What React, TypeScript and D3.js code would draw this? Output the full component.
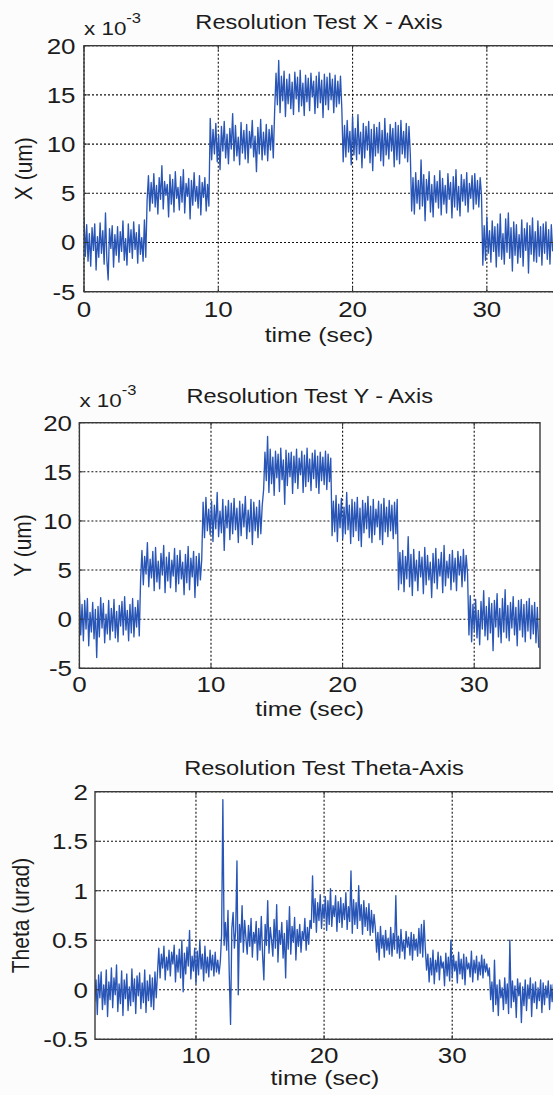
import React from "react";
import * as d3 from "d3";

const W = 553, H = 1095;
const SX = 1.18; // the scanned figure is a little stretched sideways
const FONT = "'Liberation Sans', Arial, sans-serif";
const BLUE = "#2956b6";

// ---- X axis test (x 10^-3 um): start time of each step and its samples
const xStepTimes = [0, 4.7, 9.4, 14.2, 19.3, 24.4, 29.7, 35];
const xSteps = [
  [2.6, -1.4, 1.8, -1.9, 0.9, -2.4, 1.5, -0.8, 1.9, -2.8, 0.6, -1.5, 2.0, -1.1, 1.2, -2.2, 3.0, -1.7, -3.8, 1.4, -0.6, 1.7, -2.5, 0.8, -1.3, 1.6, -2.0, 1.1, -0.9, 2.2, -1.8, 0.4, -2.3, 1.9, -1.0, 1.3, -1.6, 2.1, -0.7, 1.0, -2.1, 1.8, -1.2, 0.5, -1.9, 2.3, -1.5],
  [4.3, 6.8, 3.2, 6.1, 4.0, 7.0, 3.6, 5.8, 2.9, 6.6, 4.4, 7.8, 3.4, 6.2, 4.8, 5.9, 2.6, 6.9, 3.9, 6.4, 3.1, 7.2, 4.5, 5.6, 3.3, 6.7, 4.1, 7.4, 3.0, 6.0, 4.7, 6.5, 2.4, 6.3, 3.8, 7.1, 4.2, 5.7, 3.5, 6.8, 2.8, 6.1, 4.6, 6.6, 3.2, 5.9, 3.7],
  [12.6, 8.4, 11.5, 9.0, 12.1, 8.2, 10.9, 7.4, 11.8, 9.3, 12.3, 8.6, 11.0, 8.0, 11.6, 9.5, 13.1, 8.3, 11.9, 8.8, 10.7, 7.9, 12.2, 9.1, 11.4, 8.5, 12.0, 8.1, 11.3, 9.6, 12.4, 8.7, 10.8, 7.2, 11.7, 9.0, 12.5, 8.4, 11.2, 8.9, 12.0, 8.3, 11.5, 9.4, 11.9, 8.6],
  [13.5, 17.2, 14.0, 18.5, 13.2, 16.9, 14.4, 17.4, 12.8, 16.6, 14.1, 17.1, 13.6, 16.3, 13.0, 17.3, 14.6, 16.8, 13.3, 17.5, 13.9, 16.2, 12.9, 17.0, 14.3, 16.7, 13.4, 17.2, 14.8, 16.4, 13.1, 16.9, 13.7, 17.3, 14.2, 16.5, 12.7, 17.1, 14.0, 16.8, 13.5, 17.2, 14.5, 16.6, 13.2, 17.0, 13.8, 16.4, 14.1, 16.9, 13.6],
  [8.2, 11.9, 8.7, 12.4, 9.2, 11.3, 7.9, 12.8, 8.9, 11.6, 8.4, 13.0, 9.0, 11.2, 7.6, 12.1, 8.6, 11.8, 9.4, 12.3, 8.1, 11.5, 7.3, 12.0, 8.8, 11.7, 9.1, 12.2, 8.3, 11.4, 7.8, 12.6, 8.9, 11.1, 8.5, 12.0, 9.3, 11.6, 7.7, 12.2, 8.4, 11.9, 8.0, 12.4, 9.0, 11.3, 8.6, 12.1, 8.2, 11.8, 9.0],
  [3.2, 6.6, 2.9, 7.1, 4.0, 6.3, 3.4, 8.4, 3.7, 6.9, 2.2, 6.4, 4.3, 7.2, 3.1, 5.9, 2.6, 6.8, 4.1, 6.2, 3.5, 7.3, 2.8, 6.5, 3.9, 5.8, 3.0, 7.0, 4.4, 6.1, 2.5, 6.7, 3.6, 7.4, 3.3, 5.7, 2.7, 6.9, 4.2, 6.4, 3.8, 7.1, 3.1, 6.0, 4.5, 6.8, 3.4, 7.0, 3.9, 6.3, 3.6, 6.6, 4.8],
  [-2.3, 1.7, -1.8, 2.6, -1.1, 1.2, -2.0, 2.2, -0.9, 1.6, -2.5, 1.9, -1.4, 2.9, -1.7, 0.9, -2.2, 2.4, -1.0, 3.0, -1.6, 1.5, -2.9, 2.1, -1.3, 1.8, -2.1, 0.8, -1.5, 2.3, -2.4, 1.4, -0.8, 2.0, -3.1, 1.7, -1.2, 2.5, -1.9, 1.1, -2.0, 2.2, -1.4, 1.6, -2.3, 1.9, -1.1, 2.1, -1.7, 1.3, -2.2, 1.8, -0.9],
];

// ---- Y axis test (x 10^-3 um)
const yStepTimes = [0, 4.65, 9.4, 14.0, 19.2, 24.25, 29.6, 35];
const ySteps = [
  [2.8, -1.6, 1.5, -2.2, 1.9, -1.0, 2.1, -2.7, 0.7, -1.3, 1.7, -2.0, 1.0, -3.9, 1.3, -1.8, 2.2, -0.9, 1.6, -2.4, 0.5, -1.5, 1.9, -2.1, 1.1, -1.2, 2.0, -1.9, 0.8, -2.3, 1.4, -0.7, 1.8, -1.6, 2.3, -1.1, 0.9, -2.2, 1.5, -1.4, 2.1, -1.8, 1.2, -0.8, 1.9, -1.7],
  [4.0, 7.0, 3.5, 6.4, 4.6, 7.8, 3.3, 6.1, 4.2, 6.9, 2.9, 7.3, 3.8, 5.9, 3.1, 6.7, 4.5, 7.5, 2.7, 6.3, 3.9, 6.8, 3.2, 6.0, 4.4, 7.2, 2.8, 6.5, 3.6, 7.0, 4.1, 5.8, 2.5, 6.6, 3.7, 7.4, 3.0, 6.2, 4.3, 6.9, 2.2, 6.4, 3.4, 6.7, 4.0, 6.1],
  [11.9, 8.3, 12.4, 9.0, 11.2, 8.6, 12.0, 7.9, 11.6, 9.2, 12.9, 8.4, 11.0, 8.8, 12.2, 7.0, 11.5, 9.3, 12.1, 8.1, 11.8, 8.7, 12.3, 9.1, 11.3, 7.8, 12.0, 8.5, 11.7, 9.4, 12.5, 8.2, 11.1, 8.9, 12.2, 7.6, 11.9, 9.0, 11.4, 8.3, 12.1, 8.7, 11.6],
  [13.2, 17.0, 14.1, 18.6, 12.9, 17.3, 13.8, 16.5, 12.6, 17.1, 14.4, 16.8, 13.0, 17.4, 14.2, 16.2, 11.7, 17.2, 13.6, 16.9, 14.5, 17.0, 12.8, 16.6, 13.9, 17.3, 13.3, 16.4, 14.7, 17.1, 12.9, 16.7, 13.5, 17.4, 14.0, 16.3, 13.1, 16.9, 14.3, 17.2, 13.4, 16.6, 12.8, 17.0, 14.1, 16.5, 13.7, 17.1, 13.2, 16.8, 14.0, 16.4],
  [8.5, 12.0, 8.9, 12.6, 7.9, 11.7, 9.3, 12.3, 8.2, 11.4, 8.7, 12.9, 9.1, 11.6, 7.7, 12.2, 8.4, 11.9, 9.0, 12.4, 8.0, 11.3, 7.4, 12.1, 8.8, 11.8, 9.2, 12.5, 8.3, 11.5, 7.8, 12.2, 8.6, 11.2, 9.4, 12.0, 8.1, 11.7, 7.6, 12.3, 8.9, 11.4, 8.4, 12.1, 9.0, 11.6, 8.2, 11.9, 8.7, 12.2],
  [3.0, 6.8, 3.6, 7.0, 2.8, 6.4, 4.1, 8.4, 3.3, 6.6, 2.4, 7.1, 3.9, 6.0, 2.9, 6.9, 4.3, 6.3, 2.6, 7.3, 3.5, 6.5, 4.0, 5.8, 2.2, 6.7, 3.7, 7.2, 3.1, 6.1, 4.4, 6.8, 2.7, 7.5, 3.4, 5.9, 4.2, 6.6, 3.0, 7.0, 3.8, 6.2, 2.9, 6.9, 4.5, 6.4, 3.3, 7.1, 3.9, 6.5, 4.6],
  [-1.6, 2.4, -2.3, 1.5, -1.2, 2.0, -1.9, 0.9, -2.6, 1.8, -1.0, 2.9, -1.7, 1.3, -2.1, 2.2, -1.4, 1.6, -3.2, 1.9, -0.8, 2.6, -1.8, 1.1, -2.4, 2.1, -1.3, 3.0, -1.9, 1.4, -2.2, 1.7, -0.9, 2.3, -1.6, 1.2, -2.7, 1.9, -1.1, 2.0, -1.8, 1.5, -2.3, 1.8, -1.2, 2.1, -2.0, 1.4, -1.5, 1.7, -2.4, 1.2, -2.9],
];

// ---- Theta axis test (urad)
const thStepTimes = [2.1, 7.0, 12.0, 19.0, 24.0, 28.0, 33.0, 38];
const thSteps = [
  [-0.12, 0.10, -0.25, 0.15, -0.08, 0.18, -0.20, 0.05, -0.15, 0.20, -0.27, 0.08, -0.10, 0.22, -0.18, 0.12, -0.05, 0.25, -0.22, 0.06, -0.14, 0.19, -0.26, 0.10, -0.09, 0.16, -0.21, 0.03, -0.16, 0.21, -0.12, 0.11, -0.24, 0.14, -0.06, 0.17, -0.19, 0.07, -0.13, 0.20, -0.23, 0.09, -0.11, 0.15, -0.17, 0.12, -0.20, 0.18, -0.08],
  [0.18, 0.42, 0.12, 0.36, 0.22, 0.44, 0.10, 0.33, 0.20, 0.40, 0.14, 0.38, 0.26, 0.45, 0.08, 0.35, 0.18, 0.41, 0.12, 0.50, -0.02, 0.37, 0.16, 0.43, 0.24, 0.60, 0.11, 0.34, 0.19, 0.42, 0.06, 0.39, 0.15, 0.50, 0.21, 0.36, 0.09, 0.44, 0.17, 0.33, 0.13, 0.40, 0.20, 0.35, 0.14, 0.38, 0.18, 0.30, 0.16, 0.28],
  [0.55, 1.92, 0.45, 0.68, 0.40, 0.80, 0.15, -0.35, 0.62, 0.78, 0.42, 0.60, 1.30, -0.05, 0.66, 0.48, 0.85, 0.38, 0.70, 0.52, 0.36, 0.65, 0.44, 0.72, 0.33, 0.58, 0.47, 0.69, 0.30, 0.62, 0.40, 0.74, 0.35, 0.10, 0.66, 0.45, 0.90, 0.37, 0.63, 0.50, 0.34, 0.71, 0.42, 0.86, 0.28, 0.60, 0.46, 0.68, 0.32, 0.57, 0.12, 0.70, 0.41, 0.84, 0.36, 0.64, 0.48, 0.73, 0.30, 0.61, 0.44, 0.66, 0.38, 0.59, 0.50, 0.72, 0.40, 0.63, 0.46, 0.70],
  [0.62, 1.15, 0.68, 0.92, 0.58, 0.88, 0.70, 0.96, 0.62, 0.86, 0.72, 0.94, 0.60, 0.90, 0.66, 1.02, 0.64, 0.85, 0.74, 0.95, 0.59, 0.89, 0.68, 0.93, 0.63, 0.87, 0.71, 0.98, 0.61, 0.84, 0.69, 1.20, 0.57, 0.91, 0.66, 0.88, 0.62, 1.05, 0.70, 0.86, 0.56, 0.90, 0.64, 0.83, 0.60, 0.87, 0.55, 0.80, 0.58, 0.76],
  [0.62, 0.38, 0.58, 0.30, 0.64, 0.42, 0.55, 0.33, 0.60, 0.40, 0.52, 0.36, 0.63, 0.34, 0.57, 0.41, 0.95, 0.37, 0.54, 0.32, 0.61, 0.39, 0.50, 0.31, 0.59, 0.43, 0.53, 0.35, 0.58, 0.30, 0.56, 0.40, 0.51, 0.34, 0.62, 0.37, 0.66, 0.33, 0.70, 0.42],
  [0.20, 0.36, 0.08, 0.32, 0.15, 0.40, 0.06, 0.30, 0.18, 0.38, 0.10, 0.34, 0.22, 0.28, 0.04, 0.37, 0.14, 0.33, 0.09, 0.50, 0.12, 0.35, 0.19, 0.29, 0.07, 0.38, 0.16, 0.31, 0.11, 0.36, 0.05, 0.33, 0.21, 0.27, 0.13, 0.39, 0.08, 0.30, 0.17, 0.34, 0.10, 0.28, 0.15, 0.35, 0.12, 0.31, 0.18, 0.26, 0.14, 0.22],
  [-0.10, 0.08, -0.22, 0.30, -0.15, 0.05, -0.26, 0.10, -0.08, 0.02, -0.20, 0.12, -0.14, 0.06, -0.24, 0.50, -0.18, 0.09, -0.12, 0.04, -0.28, 0.11, -0.06, 0.07, -0.33, 0.03, -0.16, 0.10, -0.21, 0.05, -0.09, 0.12, -0.27, 0.06, -0.13, 0.08, -0.19, 0.02, -0.11, 0.10, -0.23, 0.07, -0.15, 0.04, -0.08, 0.09, -0.20, 0.05, -0.12, 0.06],
];

const umTicks = [-5, 0, 5, 10, 15, 20];
const thetaTicks = [-0.5, 0, 0.5, 1, 1.5, 2];
const timeTicksA = [0, 10, 20, 30];
const timeTicksB = [10, 20, 30];

const panels = [
  {
    title: "Resolution Test X - Axis", ylabel: "X (um)", exp: true,
    stepTimes: xStepTimes, steps: xSteps, xDomain: [0, 35], yDomain: [-5, 20],
    xTicks: timeTicksA, yTicks: umTicks,
    left: 84, right: 554, top: 45.7, bottom: 291.7,
    titleX: 319, titleY: 28.5, expY: 35, xtY: 316.5, xlY: 342, ylX: 32, ytX: 75.5,
  },
  {
    title: "Resolution Test Y - Axis", ylabel: "Y (um)", exp: true,
    stepTimes: yStepTimes, steps: ySteps, xDomain: [0, 35], yDomain: [-5, 20],
    xTicks: timeTicksA, yTicks: umTicks,
    left: 79.4, right: 540, top: 422.7, bottom: 668.3,
    titleX: 309.7, titleY: 403.3, expY: 406.5, xtY: 691.5, xlY: 716, ylX: 30.5, ytX: 72,
  },
  {
    title: "Resolution Test Theta-Axis", ylabel: "Theta (urad)", exp: false,
    stepTimes: thStepTimes, steps: thSteps, xDomain: [2.12, 38], yDomain: [-0.5, 2],
    xTicks: timeTicksB, yTicks: thetaTicks,
    left: 95, right: 554.7, top: 791.7, bottom: 1039.3,
    titleX: 324, titleY: 775, expY: 0, xtY: 1063, xlY: 1085, ylX: 28.5, ytX: 88,
  },
];

function Txt({ x, y, anchor = "middle", size = 21, rotate = 0, children }: any) {
  return (
    <text
      transform={`translate(${x},${y}) scale(${SX},1) rotate(${rotate})`}
      textAnchor={anchor}
      fontSize={size}
      fontFamily={FONT}
      fill="#1c1c1c"
    >
      {children}
    </text>
  );
}

function Panel({ p, id }: any) {
  const x = d3.scaleLinear().domain(p.xDomain).range([p.left, p.right]);
  const y = d3.scaleLinear().domain(p.yDomain).range([p.bottom, p.top]);

  // each step's samples are spread evenly over its time span
  const pts: [number, number][] = p.stepTimes.slice(0, -1).flatMap((t0: number, k: number) => {
    const t1 = p.stepTimes[k + 1];
    const seg: number[] = p.steps[k];
    return seg.map((v, i) => [t0 + (i * (t1 - t0)) / seg.length, v] as [number, number]);
  });
  const line = d3.line<[number, number]>().x(d => x(d[0])).y(d => y(d[1]));

  return (
    <g>
      <defs>
        <clipPath id={`clip${id}`}>
          <rect x={p.left} y={p.top} width={p.right - p.left} height={p.bottom - p.top} />
        </clipPath>
      </defs>
      <rect x={p.left} y={p.top} width={p.right - p.left} height={p.bottom - p.top} fill="#fff" />
      {/* dotted grid */}
      {p.xTicks.map((t: number) => (
        <line key={"gx" + t} x1={x(t)} x2={x(t)} y1={p.top} y2={p.bottom}
          stroke="#111" strokeWidth={1.1} strokeDasharray="2,2" />
      ))}
      {p.yTicks.map((t: number) => (
        <line key={"gy" + t} x1={p.left} x2={p.right} y1={y(t)} y2={y(t)}
          stroke="#111" strokeWidth={1.1} strokeDasharray="2,2" />
      ))}
      <path d={line(pts) || ""} fill="none" stroke={BLUE} strokeWidth={1.35}
        strokeLinejoin="round" clipPath={`url(#clip${id})`} />
      {/* inward ticks */}
      {p.xTicks.map((t: number) => (
        <g key={"tx" + t}>
          <line x1={x(t)} x2={x(t)} y1={p.bottom} y2={p.bottom - 4} stroke="#333" />
          <line x1={x(t)} x2={x(t)} y1={p.top} y2={p.top + 4} stroke="#333" />
        </g>
      ))}
      {p.yTicks.map((t: number) => (
        <g key={"ty" + t}>
          <line x1={p.left} x2={p.left + 4} y1={y(t)} y2={y(t)} stroke="#333" />
          <line x1={p.right} x2={p.right - 4} y1={y(t)} y2={y(t)} stroke="#333" />
        </g>
      ))}
      <rect x={p.left} y={p.top} width={p.right - p.left} height={p.bottom - p.top}
        fill="none" stroke="#3a3a3a" strokeWidth={1.4} />

      {p.xTicks.map((t: number) => (
        <Txt key={"lx" + t} x={x(t)} y={p.xtY} size={22}>{t}</Txt>
      ))}
      {p.yTicks.map((t: number) => (
        <Txt key={"ly" + t} x={p.ytX} y={y(t) + 7.8} anchor="end" size={22}>{t}</Txt>
      ))}
      <Txt x={p.titleX} y={p.titleY} size={20}>{p.title}</Txt>
      <Txt x={(p.left + p.right) / 2} y={p.xlY}>time (sec)</Txt>
      <Txt x={p.ylX} y={(p.top + p.bottom) / 2} rotate={-90}>{p.ylabel}</Txt>
      {p.exp && (
        <Txt x={p.left} y={p.expY} anchor="start" size={19}>
          x 10<tspan dy={-12} fontSize={14}>-3</tspan>
        </Txt>
      )}
    </g>
  );
}

export default function App() {
  return (
    <svg width={W} height={H} style={{ position: "absolute", left: 0, top: 0, background: "#fcfcfc" }}>
      {panels.map((p, i) => (
        <Panel key={i} p={p} id={i} />
      ))}
    </svg>
  );
}
